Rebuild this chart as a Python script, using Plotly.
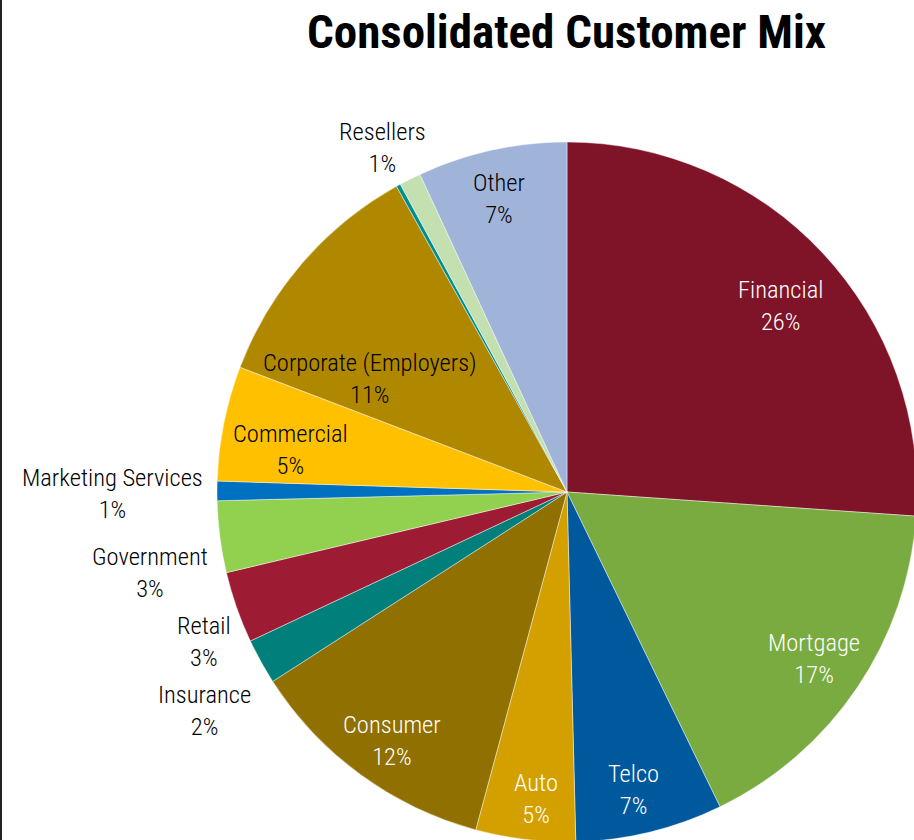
import math
import plotly.graph_objects as go

# Customer mix by segment (share of consolidated revenue, %)
segments = ["Financial", "Mortgage", "Telco", "Auto", "Consumer", "Insurance",
            "Retail", "Government", "Marketing Services", "Commercial",
            "Corporate (Employers)", "Education", "Resellers", "Other"]
shares = [26.1, 16.7, 6.8, 4.6, 11.7, 2.1, 3.3, 3.3, 0.9, 5.3, 11.1, 0.2, 1.0, 6.9]
colors = ["#7f1428", "#7aab41", "#00599d", "#d4a000", "#8f7000", "#007f7b",
          "#9e1c33", "#92d050", "#0070c0", "#ffc000", "#b08800", "#008f8f",
          "#c4e0b0", "#a0b4da"]

# Figure canvas is a bit larger than the window so the pie runs off the edge
W, H = 940, 870
CX, CY, R = 567, 492, 350
FONT = "Liberation Sans Narrow, Arial Narrow, Roboto Condensed, Liberation Sans, sans-serif"


def px(x):
    return x / W


def py(y):
    return 1 - y / H


total = sum(shares)
pct = [f"{round(v / total * 100)}%" for v in shares]

fig = go.Figure(go.Pie(
    labels=segments,
    values=shares,
    sort=False,
    direction="clockwise",
    rotation=0,
    textinfo="none",
    hoverinfo="label+percent",
    marker=dict(colors=colors, line=dict(color="rgba(255,255,255,0.55)", width=0.8)),
    domain=dict(x=[px(CX - R), px(CX + R)], y=[py(CY + R), py(CY - R)]),
    showlegend=False,
))

# Labels placed inside their slices: (radial fraction, angular nudge in degrees, text colour)
inside = {
    "Financial": (0.81, 2.0, "white"),
    "Mortgage": (0.85, 0.0, "white"),
    "Telco": (0.87, 1.0, "white"),
    "Auto": (0.88, -1.0, "white"),
    "Consumer": (0.87, -1.0, "white"),
    "Commercial": (0.80, -2.6, "black"),
    "Corporate (Employers)": (0.65, -11.0, "black"),
    "Other": (0.86, -0.7, "black"),
}
# Labels for the thin slices sit outside the pie (pixel centre)
outside = {
    "Resellers": (382, 148),
    "Marketing Services": (112, 494),
    "Government": (150, 572),
    "Retail": (204, 641),
    "Insurance": (204, 710),
}

annotations = []
cum = 0.0
for name, v, p in zip(segments, shares, pct):
    mid = (cum + v / 2) / total * 360
    cum += v
    text = f"{name}<br>{p}"
    if name in inside:
        f, nudge, col = inside[name]
        a = math.radians(mid + nudge)
        x = CX + f * R * math.sin(a)
        y = CY - f * R * math.cos(a)
    elif name in outside:
        x, y = outside[name]
        col = "black"
    else:
        continue
    annotations.append(dict(
        x=px(x), y=py(y), xref="paper", yref="paper", text=text, showarrow=False,
        xanchor="center", yanchor="middle", align="center",
        font=dict(family=FONT, size=24.5, color=col, weight=300),
    ))

annotations.append(dict(
    x=px(566), y=py(31), xref="paper", yref="paper",
    text="<b>Consolidated Customer Mix</b>", showarrow=False,
    xanchor="center", yanchor="middle",
    font=dict(family=FONT, size=47, color="black"),
))

fig.update_layout(
    width=W, height=H,
    margin=dict(l=0, r=0, t=0, b=0),
    paper_bgcolor="white",
    annotations=annotations,
    shapes=[dict(type="line", xref="paper", yref="paper", x0=px(1), x1=px(1), y0=0, y1=1,
                 line=dict(color="#222222", width=2))],
)

fig.write_html(
    "out.html",
    post_script="document.body.style.margin='0';document.body.style.overflow='hidden';"
                "document.documentElement.style.overflow='hidden';",
)
